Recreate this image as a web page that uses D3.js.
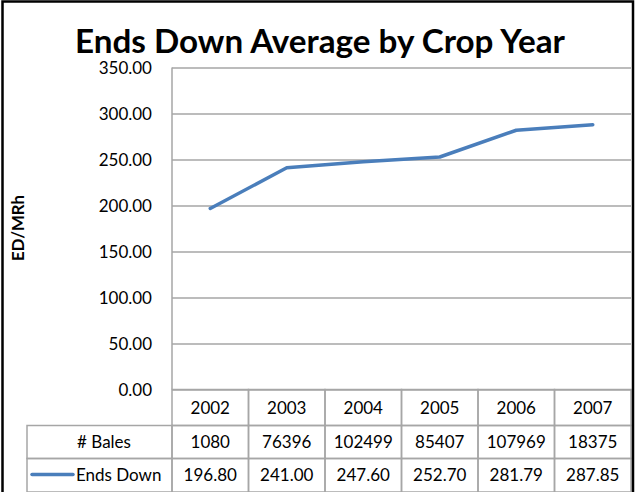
<!DOCTYPE html>
<html>
<head>
<meta charset="UTF-8">
<title>Ends Down Average by Crop Year</title>
<style>
    body { margin: 0; background: #fff; }
    text { font-family: Lato, "Open Sans", sans-serif; fill: #000; }
    .grid line { stroke: #a6a6a6; stroke-width: 1.5px; }
    .grid path { display: none; }
    .cell { fill: none; stroke: #a6a6a6; stroke-width: 1.5px; }
</style>
</head>
<body>
<script src="https://d3js.org/d3.v7.min.js"></script>
<script>
    // chart data
    var years = ["2002", "2003", "2004", "2005", "2006", "2007"];
    var bales = [1080, 76396, 102499, 85407, 107969, 18375];
    var endsDown = [196.80, 241.00, 247.60, 252.70, 281.79, 287.85];
    var yTicks = [0, 50, 100, 150, 200, 250, 300, 350];

    var width = 636, height = 492;
    var plotLeft = 172, plotRight = 631, plotTop = 67.5, plotBottom = 389.5;
    var tableLeft = 27;
    var rowTops = [389.5, 425.5, 458.5, 492];
    var fs = "17px";

    var svg = d3.select("body").append("svg")
        .attr("width", width)
        .attr("height", height);

    svg.append("rect")
        .attr("x", 0).attr("y", 0)
        .attr("width", width).attr("height", height)
        .attr("fill", "#fff");

    var x = d3.scaleBand().domain(years).range([plotLeft, plotRight]);
    var y = d3.scaleLinear().domain([0, 350]).range([plotBottom, plotTop]);

    // horizontal gridlines
    svg.append("g")
        .attr("class", "grid")
        .attr("transform", "translate(" + plotLeft + ",0)")
        .call(d3.axisRight(y).tickValues(yTicks).tickSize(plotRight - plotLeft).tickFormat(""));

    // y tick labels
    svg.append("g").selectAll("text")
        .data(yTicks).enter()
        .append("text")
        .attr("x", 152)
        .attr("y", function (d) { return y(d) + 6.5; })
        .attr("text-anchor", "end")
        .style("font-size", fs)
        .text(function (d) { return d3.format(".2f")(d); });

    // plot left edge
    svg.append("line")
        .attr("x1", plotLeft).attr("x2", plotLeft)
        .attr("y1", plotTop).attr("y2", plotBottom)
        .attr("stroke", "#a6a6a6").attr("stroke-width", 1.5);

    // data table
    var table = svg.append("g");
    // header row (years)
    table.selectAll(".yearcell")
        .data(years).enter()
        .append("rect")
        .attr("class", "cell")
        .attr("x", function (d) { return x(d); })
        .attr("y", rowTops[0])
        .attr("width", x.bandwidth())
        .attr("height", rowTops[1] - rowTops[0]);

    table.selectAll(".yeartext")
        .data(years).enter()
        .append("text")
        .attr("x", function (d) { return x(d) + x.bandwidth() / 2; })
        .attr("y", 414)
        .attr("text-anchor", "middle")
        .style("font-size", fs)
        .text(function (d) { return d; });

    var rows = [
        {label: "# Bales", values: bales, fmt: d3.format("d"), legend: false},
        {label: "Ends Down", values: endsDown, fmt: d3.format(".2f"), legend: true}
    ];

    rows.forEach(function (row, i) {
        var top = rowTops[i + 1], bottom = rowTops[i + 2];
        var g = table.append("g");
        g.append("rect")
            .attr("class", "cell")
            .attr("x", tableLeft).attr("y", top)
            .attr("width", plotLeft - tableLeft)
            .attr("height", bottom - top);
        g.selectAll(".v")
            .data(row.values).enter()
            .append("rect")
            .attr("class", "cell")
            .attr("x", function (d, j) { return x(years[j]); })
            .attr("y", top)
            .attr("width", x.bandwidth())
            .attr("height", bottom - top);
        g.selectAll(".t")
            .data(row.values).enter()
            .append("text")
            .attr("x", function (d, j) { return x(years[j]) + x.bandwidth() / 2; })
            .attr("y", top + 22.5)
            .attr("text-anchor", "middle")
            .style("font-size", fs)
            .text(function (d) { return row.fmt(d); });
        if (row.legend) {
            g.append("line")
                .attr("x1", 32).attr("x2", 73)
                .attr("y1", top + 16).attr("y2", top + 16)
                .attr("stroke", "#4a7ebb").attr("stroke-width", 3.5)
                .attr("stroke-linecap", "round");
            g.append("text")
                .attr("x", 76)
                .attr("y", top + 22.5)
                .style("font-size", fs)
                .text(row.label);
        } else {
            g.append("text")
                .attr("x", 104)
                .attr("y", top + 22.5)
                .attr("text-anchor", "middle")
                .style("font-size", fs)
                .text(row.label);
        }
    });

    // series line
    var line = d3.line()
        .x(function (d, i) { return x(years[i]) + x.bandwidth() / 2; })
        .y(function (d) { return y(d); });

    svg.append("path")
        .datum(endsDown)
        .attr("d", line)
        .attr("fill", "none")
        .attr("stroke", "#4a7ebb")
        .attr("stroke-width", 3.5)
        .attr("stroke-linecap", "round")
        .attr("stroke-linejoin", "round");

    // title
    var title = svg.append("text")
        .attr("x", 320)
        .attr("y", 53)
        .attr("text-anchor", "middle")
        .style("font-size", "30px")
        .style("font-weight", "bold")
        .text("Ends Down Average by Crop Year");
    var tw = title.node().getComputedTextLength();
    title.style("font-size", (30 * 490 / tw) + "px");

    // y axis title
    var ytitle = svg.append("text")
        .attr("transform", "translate(24,228) rotate(-90)")
        .attr("text-anchor", "middle")
        .style("font-size", "16px")
        .style("font-weight", "bold")
        .text("ED/MRh");
    var yw = ytitle.node().getComputedTextLength();
    ytitle.style("font-size", (16 * 66 / yw) + "px");

    // outer border
    svg.append("rect")
        .attr("x", 2.5).attr("y", 1.5)
        .attr("width", 630.5).attr("height", 500)
        .attr("fill", "none")
        .attr("stroke", "#000")
        .attr("stroke-width", 2.5);
</script>
</body>
</html>
